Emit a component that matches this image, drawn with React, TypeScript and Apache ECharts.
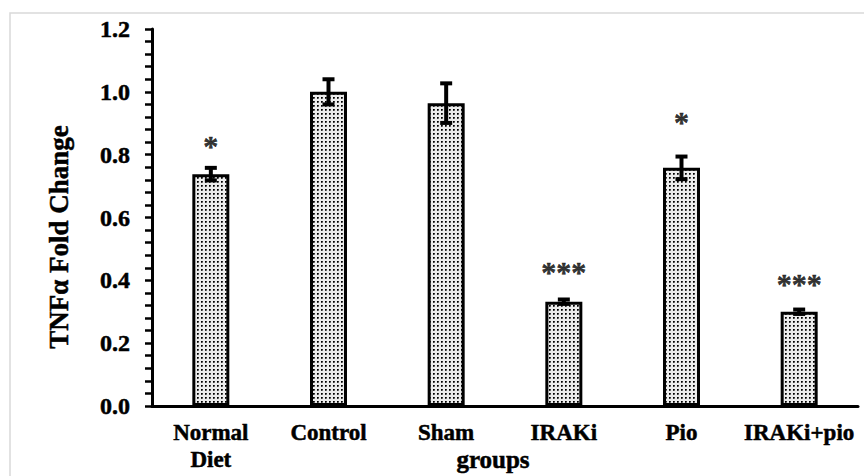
import React, { useEffect, useRef } from "react";
import * as echarts from "echarts";

const categories = ["Normal\nDiet", "Control", "Sham", "IRAKi", "Pio", "IRAKi+pio"];
const means = [0.738, 1.0, 0.964, 0.332, 0.758, 0.3];
const errors = [0.02, 0.04, 0.063, 0.007, 0.036, 0.007];
const stars = ["*", "", "", "***", "*", "***"];
const starLevels = [0.828, 0, 0, 0.427, 0.907, 0.389];
const yTicks = { min: 0, max: 1.2, interval: 0.2 };

const FONT = "'Liberation Serif', 'Times New Roman', serif";
const THICK = { textBorderColor: "#000", textBorderWidth: 0.5 };

function makePattern() {
  const c = document.createElement("canvas");
  c.width = 4;
  c.height = 4;
  const ctx = c.getContext("2d")!;
  ctx.fillStyle = "#ececec";
  ctx.fillRect(0, 0, 4, 4);
  ctx.fillStyle = "#000";
  ctx.fillRect(1, 1, 1, 1);
  ctx.fillStyle = "#333";
  ctx.fillRect(2, 1, 1, 1);
  ctx.fillRect(1, 2, 1, 1);
  ctx.fillStyle = "#777";
  ctx.fillRect(2, 2, 1, 1);
  return c;
}

export default function App() {
  const ref = useRef<HTMLDivElement>(null);
  useEffect(() => {
    const chart = echarts.init(ref.current!, null, { renderer: "svg" });
    const pattern = makePattern();
    const starData = categories
      .map((_, i) => [i, starLevels[i], stars[i]])
      .filter((d) => d[2] !== "");
    chart.setOption({
      animation: false,
      grid: { left: 152, right: 6, top: 29, bottom: 70, containLabel: false },
      xAxis: {
        type: "category",
        data: categories,
        axisLine: { lineStyle: { color: "#000", width: 3 } },
        axisTick: { show: false },
        axisLabel: {
          color: "#000",
          fontFamily: FONT,
          fontWeight: "bold",
          fontSize: 23,
          lineHeight: 27,
          margin: 13,
          interval: 0,
          ...THICK,
        },
      },
      yAxis: {
        type: "value",
        min: yTicks.min,
        max: yTicks.max,
        interval: yTicks.interval,
        splitLine: { show: false },
        axisLine: { show: true, lineStyle: { color: "#000", width: 3 } },
        axisTick: { show: true, length: 7, lineStyle: { color: "#000", width: 2.5 } },
        minorTick: { show: true, splitNumber: 5, length: 7, lineStyle: { color: "#000", width: 2.5 } },
        axisLabel: {
          color: "#000",
          fontFamily: FONT,
          fontWeight: "bold",
          fontSize: 24,
          margin: 22,
          formatter: (v: number) => v.toFixed(1),
          ...THICK,
        },
      },
      graphic: [
        {
          type: "rect",
          silent: true,
          shape: { x: 10, y: 13, width: 900, height: 520 },
          style: { fill: "none", stroke: "#d9d9d9", lineWidth: 1.5 },
        },
        {
          type: "text",
          x: 59,
          y: 237,
          rotation: Math.PI / 2,
          style: {
            text: "TNFα Fold Change",
            align: "center",
            verticalAlign: "middle",
            fill: "#000",
            stroke: "#000",
            lineWidth: 0.5,
            font: `bold 27px ${FONT}`,
          },
        },
        {
          type: "text",
          x: 493,
          y: 459,
          style: {
            text: "groups",
            align: "center",
            verticalAlign: "middle",
            fill: "#000",
            stroke: "#000",
            lineWidth: 0.5,
            font: `bold 25px ${FONT}`,
          },
        },
      ],
      series: [
        {
          type: "bar",
          data: means,
          barWidth: 37,
          itemStyle: {
            color: { image: pattern, repeat: "repeat" },
            borderColor: "#000",
            borderWidth: 3,
          },
        },
        {
          type: "custom",
          data: categories.map((_, i) => [i, means[i], errors[i]]),
          encode: { x: 0, y: 1 },
          z: 5,
          renderItem: (params: any, api: any) => {
            const x = api.value(0);
            const m = api.value(1);
            const e = api.value(2);
            const hi = api.coord([x, m + e]);
            const lo = api.coord([x, m - e]);
            const hw = 6;
            const st = { stroke: "#000", lineWidth: 4 };
            return {
              type: "group",
              children: [
                { type: "line", shape: { x1: hi[0], y1: hi[1], x2: lo[0], y2: lo[1] }, style: st },
                { type: "line", shape: { x1: hi[0] - hw, y1: hi[1], x2: hi[0] + hw, y2: hi[1] }, style: st },
                { type: "line", shape: { x1: lo[0] - hw, y1: lo[1], x2: lo[0] + hw, y2: lo[1] }, style: st },
              ],
            };
          },
        },
        {
          type: "scatter",
          data: starData,
          symbolSize: 1,
          itemStyle: { color: "rgba(0,0,0,0)" },
          label: {
            show: true,
            position: "inside",
            formatter: (p: any) => p.data[2],
            color: "#000",
            fontFamily: FONT,
            fontWeight: "bold",
            fontSize: 30,
            ...THICK,
          },
        },
      ],
    });
    return () => chart.dispose();
  }, []);
  return (
    <div
      ref={ref}
      style={{ position: "fixed", left: 0, top: 0, width: 864, height: 476, background: "#fff" }}
    />
  );
}
